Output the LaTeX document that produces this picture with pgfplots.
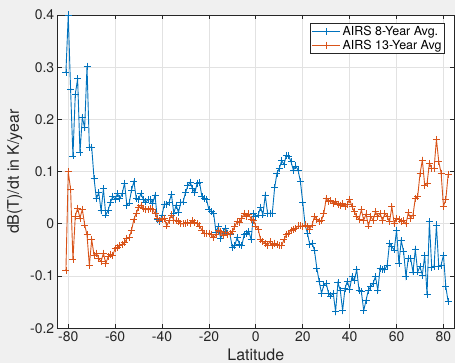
\documentclass[border=0pt]{standalone}
\usepackage{fontspec}
\setmainfont{TeX Gyre Heros}
\usepackage{pgfplots}
\pgfplotsset{compat=1.18}
\definecolor{mblue}{HTML}{0072BD}
\definecolor{morange}{HTML}{D95319}
\definecolor{figbg}{HTML}{F0F0F0}
\definecolor{axc}{HTML}{262626}
\definecolor{gridc}{HTML}{E2E2E2}

\begin{document}
\begin{tikzpicture}
\path[use as bounding box, fill=figbg] (0bp,0bp) rectangle (455bp,363bp);
\begin{scope}
\clip (0bp,0bp) rectangle (455bp,363bp);
\begin{axis}[
  at={(57.7bp,34.7bp)}, anchor=south west,
  width=396.3bp, height=313.3bp, scale only axis,
  xmin=-84.5, xmax=84.5, ymin=-0.2, ymax=0.4,
  xtick={-80,-60,-40,-20,0,20,40,60,80},
  xticklabels={-80,-60,-40,-20,0,20,40,60,80},
  ytick={-0.2,-0.1,0,0.1,0.2,0.3,0.4},
  yticklabels={-0.2,-0.1,0,0.1,0.2,0.3,0.4},
  /pgf/number format/assume math mode=true,
  grid=major,
  major grid style={gridc, line width=0.9bp},
  axis line style={axc, line width=0.8bp},
  tick style={axc, line width=0.8bp},
  major tick length=4bp,
  tick align=inside,
  ticklabel style={font=\fontsize{14}{16}\selectfont, text=axc},
  label style={font=\fontsize{16}{18}\selectfont, text=axc},
  xlabel={Latitude},
  ylabel={dB(T)/dt in K/year},
  xlabel style={at={(axis description cs:0.5,-0.102)}, anchor=base, inner sep=0pt},
  ylabel style={at={(axis description cs:-0.108,0.5)}, anchor=center},
  axis background/.style={fill=white},
  legend style={at={(axis description cs:0.977,0.974)}, anchor=north east,
    draw=axc, line width=0.6bp, fill=white,
    font=\fontsize{12.5}{13}\selectfont, inner sep=1bp, row sep=-1.5bp,
    cells={anchor=west}},
  legend image code/.code={\draw[mark repeat=2,mark phase=2] plot coordinates {(0bp,0bp) (14bp,0bp) (28bp,0bp)};},
  clip=false,
]
\addplot[mblue, line width=0.9bp, mark=+, mark size=3.5bp, mark options={line width=0.8bp}] coordinates {
(-81,0.29) (-80,0.40) (-79,0.257) (-78,0.13) (-77,0.248) (-76,0.278) (-75,0.137) (-74,0.204) (-73,0.184) (-72,0.302)
(-71,0.147) (-70,0.147) (-69,0.087) (-68,0.048) (-67,0.06) (-66,0.025) (-65,0.067) (-64,0.017) (-63,0.026) (-62,0.041)
(-61,0.053) (-60,0.047) (-59,0.058) (-58,0.048) (-57,0.058) (-56,0.078) (-55,0.036) (-54,0.04) (-53,0.065) (-52,0.081)
(-51,0.049) (-50,0.047) (-49,0.058) (-48,0.047) (-47,0.042) (-46,0.046) (-45,0.047) (-44,0.039) (-43,0.055) (-42,0.009)
(-41,0.004) (-40,0.017) (-39,0.038) (-38,0.038) (-37,0.041) (-36,0.057) (-35,0.02) (-34,0.036) (-33,0.022) (-32,0.041)
(-31,0.042) (-30,0.06) (-29,0.073) (-28,0.08) (-27,0.067) (-26,0.06) (-25,0.078) (-24,0.079) (-23,0.052) (-22,0.049)
(-21,0.046) (-20,0.027) (-19,0.023) (-18,0.02) (-17,-0.016) (-16,-0.005) (-15,-0.028) (-14,-0.015) (-13,-0.008) (-12,-0.018)
(-11,-0.021) (-10,-0.046) (-9,-0.042) (-8,-0.026) (-7,-0.039) (-6,-0.042) (-5,-0.021) (-4,-0.018) (-3,-0.015) (-2,-0.03)
(-1,0.02) (0,0.014) (1,0.017) (2,0.032) (3,0.017) (4,0.055) (5,0.02) (6,0.02) (7,0.02) (8,0.069)
(9,0.097) (10,0.106) (11,0.121) (12,0.114) (13,0.131) (14,0.13) (15,0.119) (16,0.103) (17,0.111) (18,0.103)
(19,0.081) (20,0.041) (21,-0.002) (22,-0.018) (23,-0.04) (24,-0.037) (25,-0.051) (26,-0.085) (27,-0.11) (28,-0.133)
(29,-0.117) (30,-0.114) (31,-0.133) (32,-0.138) (33,-0.133) (34,-0.168) (35,-0.113) (36,-0.127) (37,-0.166) (38,-0.124)
(39,-0.11) (40,-0.125) (41,-0.101) (42,-0.109) (43,-0.087) (44,-0.127) (45,-0.13) (46,-0.166) (47,-0.146) (48,-0.127)
(49,-0.12) (50,-0.114) (51,-0.101) (52,-0.127) (53,-0.085) (54,-0.088) (55,-0.088) (56,-0.079) (57,-0.037) (58,-0.044)
(59,-0.05) (60,-0.012) (61,-0.076) (62,-0.032) (63,-0.053) (64,-0.101) (65,-0.066) (66,-0.066) (67,-0.092) (68,-0.049)
(69,-0.092) (70,-0.082) (71,-0.098) (72,-0.06) (73,-0.136) (74,0.004) (75,-0.084) (76,-0.082) (77,-0.002) (78,-0.082)
(79,-0.079) (80,-0.06) (81,-0.12) (82,-0.149)
};
\addlegendentry{AIRS 8-Year Avg.}
\addplot[morange, line width=0.9bp, mark=+, mark size=3.5bp, mark options={line width=0.8bp}] coordinates {
(-81,-0.09) (-80,0.10) (-79,0.066) (-78,-0.069) (-77,0.015) (-76,0.03) (-75,0.011) (-74,0.028) (-73,-0.002) (-72,-0.021)
(-71,-0.08) (-70,-0.03) (-69,-0.06) (-68,-0.056) (-67,-0.066) (-66,-0.072) (-65,-0.056) (-64,-0.076) (-63,-0.063) (-62,-0.058)
(-61,-0.06) (-60,-0.047) (-59,-0.045) (-58,-0.042) (-57,-0.039) (-56,-0.036) (-55,-0.028) (-54,-0.026) (-53,-0.012) (-52,0.009)
(-51,0.02) (-50,0.032) (-49,0.036) (-48,0.03) (-47,0.028) (-46,0.027) (-45,0.03) (-44,0.027) (-43,0.02) (-42,0.011)
(-41,0.007) (-40,0.009) (-39,0.011) (-38,-0.004) (-37,0.006) (-36,0.017) (-35,0.007) (-34,0.007) (-33,0.004) (-32,0)
(-31,0) (-30,0.001) (-29,0.002) (-28,0.001) (-27,0.006) (-26,0.002) (-25,0) (-24,-0.004) (-23,-0.012) (-22,-0.018)
(-21,-0.019) (-20,-0.018) (-19,-0.021) (-18,-0.026) (-17,-0.021) (-16,-0.012) (-15,-0.015) (-14,-0.023) (-13,-0.016) (-12,-0.02)
(-11,-0.019) (-10,-0.015) (-9,-0.005) (-8,0.004) (-7,0.002) (-6,0.011) (-5,0.02) (-4,0.014) (-3,0.019) (-2,0.009)
(-1,0.007) (0,-0.005) (1,-0.01) (2,-0.03) (3,-0.034) (4,-0.037) (5,-0.041) (6,-0.034) (7,-0.042) (8,-0.037)
(9,-0.039) (10,-0.041) (11,-0.042) (12,-0.03) (13,-0.021) (14,-0.018) (15,-0.012) (16,-0.01) (17,-0.008) (18,-0.004)
(19,-0.004) (20,-0.005) (21,-0.002) (22,-0.005) (23,-0.01) (24,-0.002) (25,0.014) (26,0.009) (27,0.004) (28,0.007)
(29,0.02) (30,0.049) (31,0.043) (32,0.044) (33,0.039) (34,0.043) (35,0.038) (36,0.036) (37,0.039) (38,0.034)
(39,0.038) (40,0.047) (41,0.033) (42,0.023) (43,0.014) (44,0.009) (45,0.027) (46,0.007) (47,0.019) (48,-0.004)
(49,0.014) (50,0.007) (51,0.023) (52,0.014) (53,0.02) (54,0.006) (55,0.02) (56,0.014) (57,0.004) (58,0.033)
(59,0) (60,0.011) (61,0.009) (62,0.004) (63,0.006) (64,0) (65,0.021) (66,0.011) (67,0.017) (68,0.049)
(69,0.052) (70,0.096) (71,0.122) (72,0.074) (73,0.077) (74,0.116) (75,0.106) (76,0.106) (77,0.162) (78,0.119)
(79,0.097) (80,0.034) (81,0.046) (82,0.095)
};
\addlegendentry{AIRS 13-Year Avg}
\end{axis}
\end{scope}
\end{tikzpicture}
\end{document}
